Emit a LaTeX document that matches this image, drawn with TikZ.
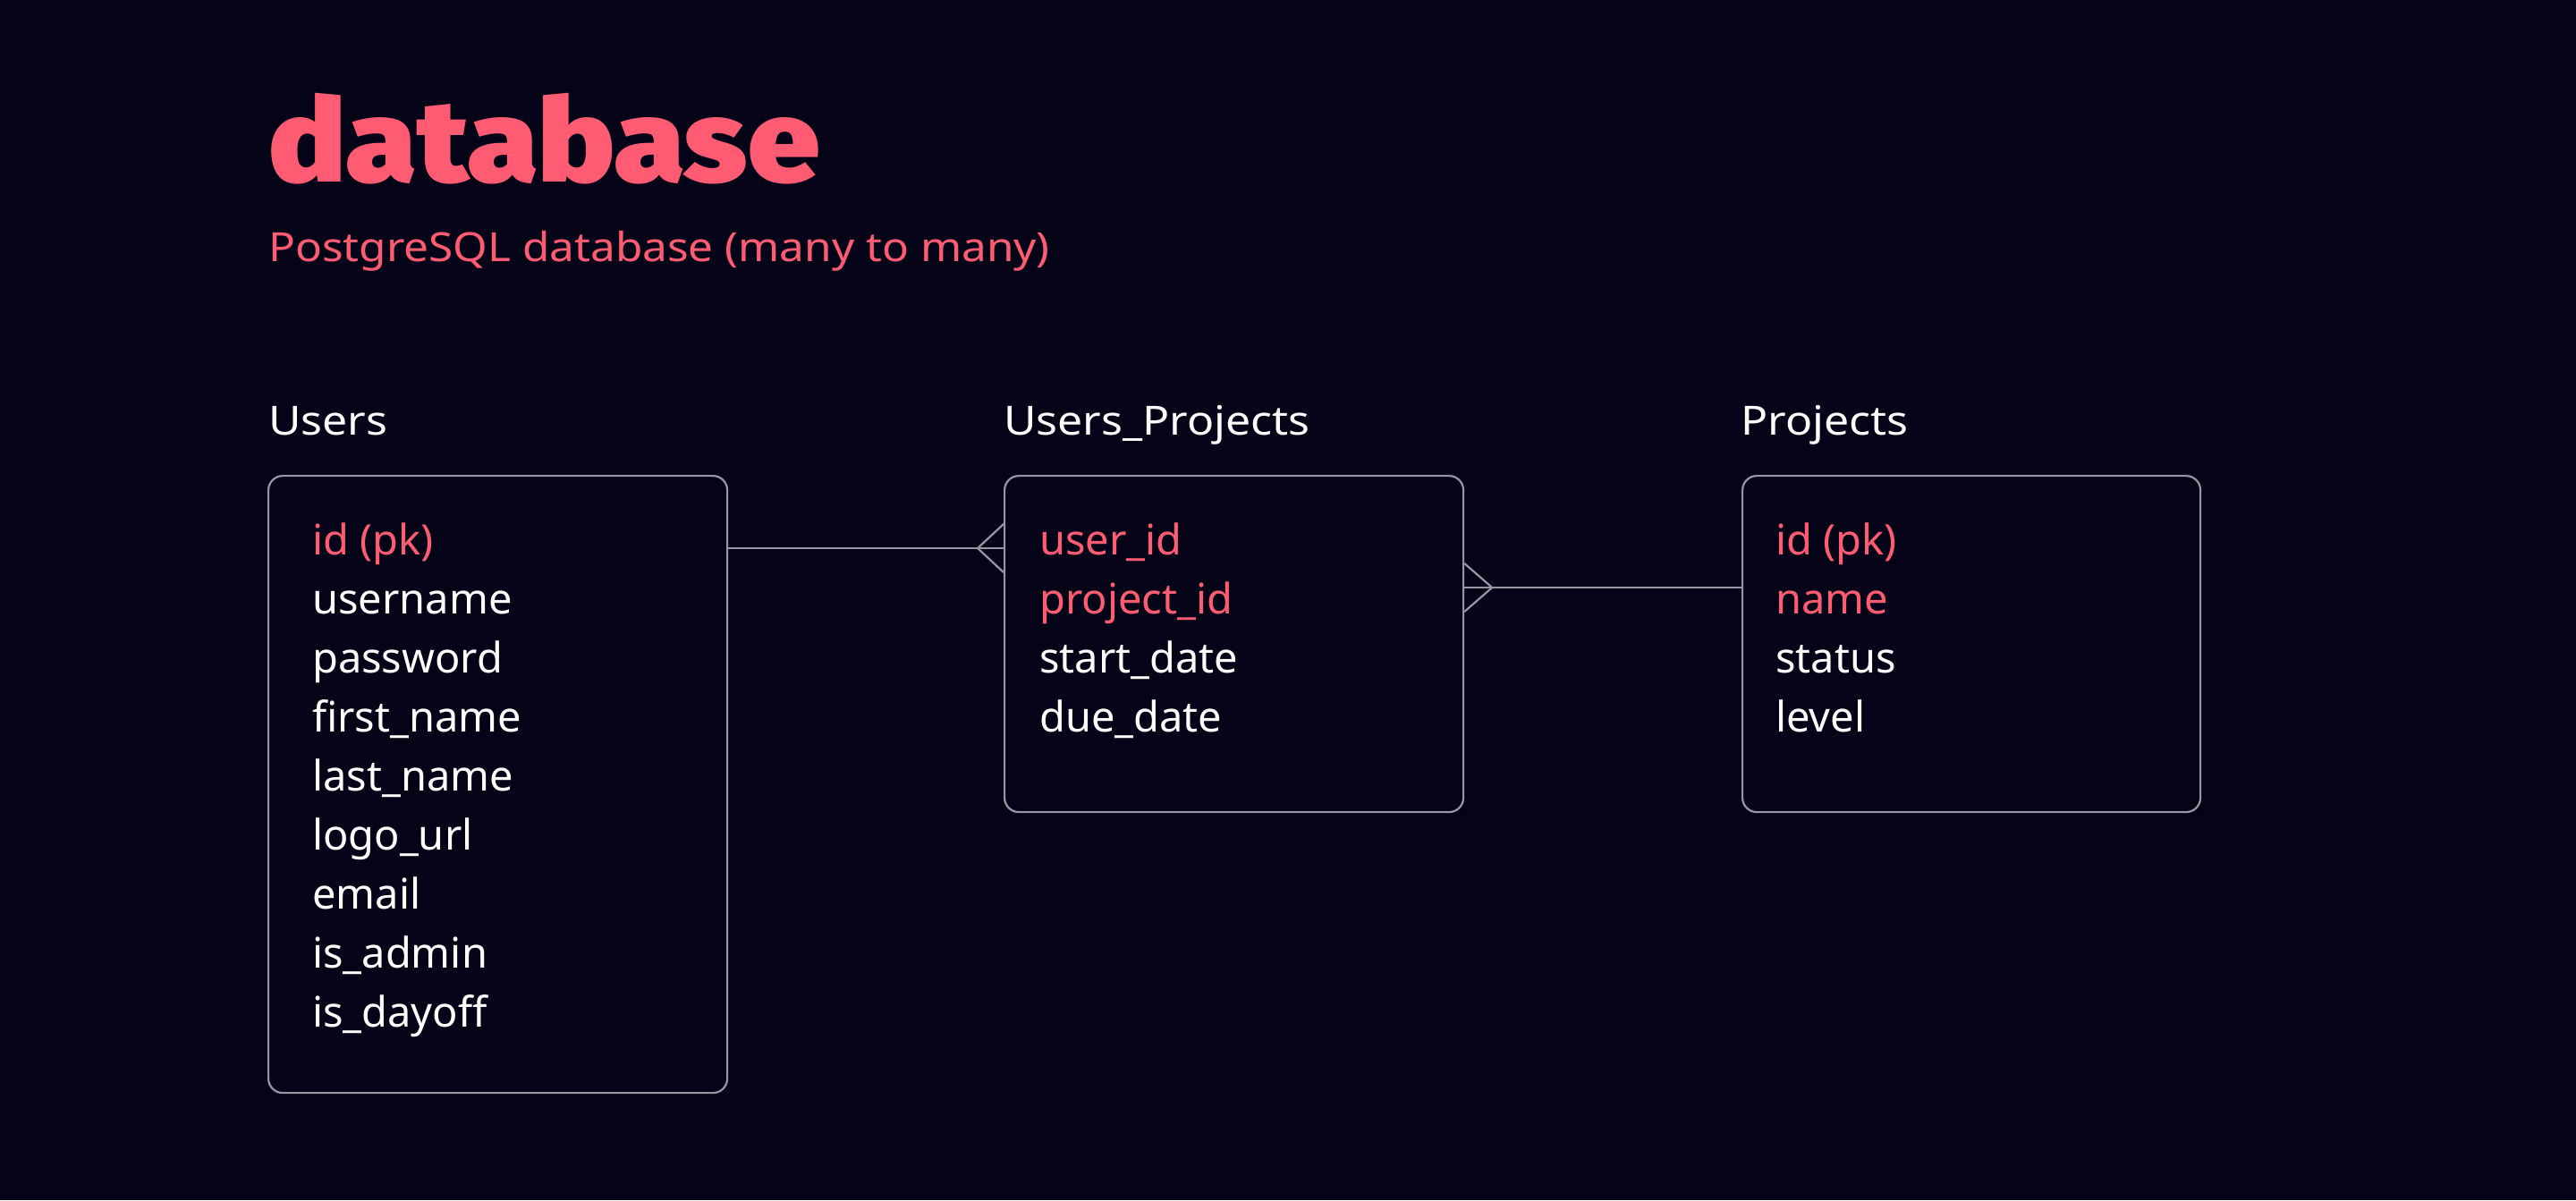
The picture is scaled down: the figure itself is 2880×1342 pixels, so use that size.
\documentclass[tikz,border=0pt]{standalone}
\usepackage{fontspec}
\setmainfont{Noto Sans}
\newfontfamily\titlefont{Fira Sans}[UprightFont={* Black}]
\usetikzlibrary{calc}
\definecolor{bg}{RGB}{5,3,23}
\definecolor{pinkc}{RGB}{255,92,115}
\definecolor{edgec}{RGB}{150,149,160}
\tikzset{
  tbl/.style={draw=edgec, line width=2.2pt, rounded corners=16pt, anchor=north west, inner sep=0pt},
  conn/.style={draw=edgec, line width=2.2pt},
  hdr/.style={anchor=base west, inner sep=0pt, text=white, font=\fontsize{45}{45}\selectfont, xscale=1.11},
  fld/.style={anchor=base west, inner sep=0pt, text=white, font=\fontsize{47}{47}\selectfont},
  key/.style={fld, text=pinkc},
}
\begin{document}
\begin{tikzpicture}[x=1pt,y=-1pt]
\fill[bg] (0,0) rectangle (2880,1342);
\useasboundingbox (0,0) rectangle (2880,1342);

\node[anchor=base west, inner sep=0pt, text=pinkc, font=\titlefont\fontsize{130}{130}\selectfont, xscale=1.11] (title) at (300,203) {database};
\node[anchor=base west, inner sep=0pt, text=pinkc, font=\fontsize{45}{45}\selectfont, xscale=1.1] (sub) at (300,292) {PostgreSQL database (many to many)};

% tables
\node[tbl, minimum width=513pt, minimum height=690pt] (users) at (299,531) {};
\node[tbl, minimum width=513pt, minimum height=376pt] (up) at (1122,531) {};
\node[tbl, minimum width=512pt, minimum height=376pt] (proj) at (1947,531) {};

% headers
\node[hdr] (husers) at (300,486) {Users};
\node[hdr] (hup) at (1122,486) {Users\_Projects};
\node[hdr] (hproj) at (1946,486) {Projects};

% Users fields
\node[key] (u1) at (349,620) {id (pk)};
\node[fld] (u2) at (349,686) {username};
\node[fld] (u3) at (349,752) {password};
\node[fld] (u4) at (349,818) {first\_name};
\node[fld] (u5) at (349,884) {last\_name};
\node[fld] (u6) at (349,950) {logo\_url};
\node[fld] (u7) at (349,1016) {email};
\node[fld] (u8) at (349,1082) {is\_admin};
\node[fld] (u9) at (349,1148) {is\_dayoff};

% Users_Projects fields
\node[key] (p1) at (1162,620) {user\_id};
\node[key] (p2) at (1162,686) {project\_id};
\node[fld] (p3) at (1162,752) {start\_date};
\node[fld] (p4) at (1162,818) {due\_date};

% Projects fields
\node[key] (q1) at (1985,620) {id (pk)};
\node[key] (q2) at (1985,686) {name};
\node[fld] (q3) at (1985,752) {status};
\node[fld] (q4) at (1985,818) {level};

% connectors
\coordinate (c1) at ($(users.north east)+(0,82)$);
\coordinate (e1) at (c1 -| up.west);
\draw[conn] (c1) -- (e1);
\draw[conn] ($(e1)+(0,-27)$) -- ($(e1)+(-29,0)$) -- ($(e1)+(0,27)$);

\coordinate (c2) at ($(proj.north west)+(0,126)$);
\coordinate (e2) at (c2 -| up.east);
\draw[conn] (e2) -- (c2);
\draw[conn] ($(e2)+(0,-27)$) -- ($(e2)+(31,0)$) -- ($(e2)+(0,27)$);
\end{tikzpicture}
\end{document}
